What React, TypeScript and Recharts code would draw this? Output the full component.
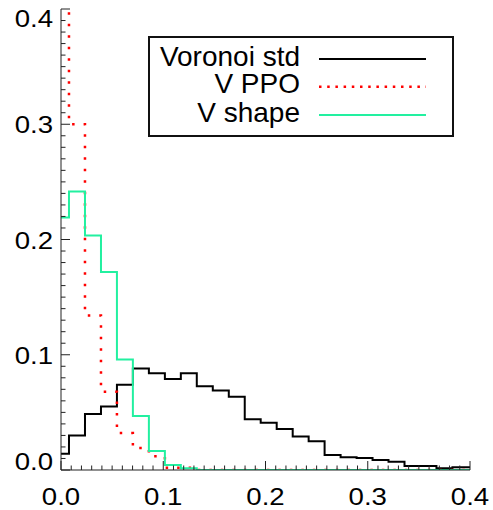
import { LineChart, Line, XAxis, YAxis, Legend } from "recharts";

// histogram bin centres (bin width 1/64)
const binCenters = [
  0, 0.0156, 0.0313, 0.0469, 0.0625, 0.0781, 0.0938, 0.1094, 0.125, 0.1406,
  0.1563, 0.1719, 0.1875, 0.2031, 0.2188, 0.2344, 0.25, 0.2656, 0.2813,
  0.2969, 0.3125, 0.3281, 0.3438, 0.3594, 0.375, 0.3906, 0.4063,
];

const voronoiStd = [
  0.014, 0.03, 0.0485, 0.055, 0.074, 0.088, 0.084, 0.079, 0.084, 0.0727,
  0.069, 0.0635, 0.044, 0.041, 0.0355, 0.029, 0.025, 0.013, 0.011, 0.0104,
  0.0087, 0.0072, 0.0035, 0.0035, 0.0015, 0.0023, 0.0023,
];

const vPpo = [
  0.46, 0.3, 0.134, 0.068, 0.032, 0.019, 0.012, 0.002, 0.002, 0.0, 0, 0, 0,
  0, 0, 0, 0, 0, 0, 0, 0, 0, 0, 0, 0, 0, 0,
];

const vShape = [
  0.219, 0.2416, 0.2035, 0.1717, 0.0958, 0.0468, 0.0165, 0.0043, 0.0015, 0,
  0, 0, 0, 0, 0, 0, 0, 0, 0, 0, 0, 0, 0, 0, 0, 0, 0,
];

const axisTicks = [
  0, 0.01, 0.02, 0.03, 0.04, 0.05, 0.06, 0.07, 0.08, 0.09, 0.1, 0.11, 0.12,
  0.13, 0.14, 0.15, 0.16, 0.17, 0.18, 0.19, 0.2, 0.21, 0.22, 0.23, 0.24, 0.25,
  0.26, 0.27, 0.28, 0.29, 0.3, 0.31, 0.32, 0.33, 0.34, 0.35, 0.36, 0.37, 0.38,
  0.39, 0.4,
];

const data = binCenters.map((x, i) => ({
  x,
  std: voronoiStd[i],
  ppo: vPpo[i],
  shape: vShape[i],
}));

const FONT = '"Liberation Sans", Arial, Helvetica, sans-serif';
const AXIS_COLOR = "#222";

const series = [
  { key: "std", label: "Voronoi std", color: "#000000", width: 2, dash: undefined, legendDash: undefined },
  { key: "ppo", label: "V PPO", color: "#ff0000", width: 2.5, dash: "2.5 9", legendDash: "2.5 5.7" },
  { key: "shape", label: "V shape", color: "#22f0a0", width: 2, dash: undefined, legendDash: undefined },
];

const isMajor = (v: number) => Math.abs(v * 10 - Math.round(v * 10)) < 1e-6;

function AxisTick(props: any) {
  const { x, y, payload, side } = props;
  const v = payload.value as number;
  const len = isMajor(v) ? 9 : 4.5;
  const label = v.toFixed(1);

  if (side === "bottom") {
    return (
      <g>
        <line x1={x} y1={y} x2={x} y2={y - len} stroke={AXIS_COLOR} strokeWidth={1} />
        {isMajor(v) && (
          <text
            x={0}
            y={0}
            transform={`translate(${x},${y + 35}) scale(1.15,1)`}
            textAnchor="middle"
            fontSize={24}
            fontFamily={FONT}
            fill="#000"
          >
            {label}
          </text>
        )}
      </g>
    );
  }
  if (side === "top") {
    return <line x1={x} y1={y} x2={x} y2={y + len} stroke={AXIS_COLOR} strokeWidth={1} />;
  }
  if (side === "right") {
    return <line x1={x} y1={y} x2={x - len} y2={y} stroke={AXIS_COLOR} strokeWidth={1} />;
  }
  // left: end labels are kept inside the frame
  let dy = 9;
  if (v >= 0.4 - 1e-9) dy = 18;
  else if (v <= 1e-9) dy = 0;
  return (
    <g>
      <line x1={x} y1={y} x2={x + len} y2={y} stroke={AXIS_COLOR} strokeWidth={1} />
      {isMajor(v) && (
        <text
          x={0}
          y={0}
          transform={`translate(${x - 8},${y + dy}) scale(1.15,1)`}
          textAnchor="end"
          fontSize={24}
          fontFamily={FONT}
          fill="#000"
        >
          {label}
        </text>
      )}
    </g>
  );
}

function LegendBox() {
  const rowY = [23, 50.7, 79];
  return (
    <svg width={306} height={101} style={{ display: "block" }}>
      <rect x={1} y={1} width={304} height={99} fill="#fff" stroke="#111" strokeWidth={2} />
      {series.map((s, i) => (
        <g key={s.key}>
          <text
            x={152}
            y={rowY[i] + 6.5}
            textAnchor="end"
            fontSize={28}
            fontFamily={FONT}
            fill="#000"
          >
            {s.label}
          </text>
          <line
            x1={171}
            x2={278}
            y1={rowY[i]}
            y2={rowY[i]}
            stroke={s.color}
            strokeWidth={s.width}
            strokeDasharray={s.legendDash}
          />
        </g>
      ))}
    </svg>
  );
}

export default function App() {
  return (
    <div style={{ position: "absolute", left: 0, top: 0 }}>
      <LineChart
        width={493}
        height={510}
        data={data}
        margin={{ top: 9, right: 23, left: 0, bottom: 0 }}
      >
        <XAxis
          dataKey="x"
          type="number"
          domain={[0, 0.4]}
          allowDataOverflow
          ticks={axisTicks}
          interval={0}
          height={40}
          tickSize={0}
          tickMargin={0}
          tickLine={false}
          axisLine={{ stroke: AXIS_COLOR, strokeWidth: 1 }}
          tick={<AxisTick side="bottom" />}
        />
        <XAxis
          xAxisId="top"
          orientation="top"
          dataKey="x"
          type="number"
          domain={[0, 0.4]}
          allowDataOverflow
          ticks={axisTicks}
          interval={0}
          height={0}
          tickSize={0}
          tickMargin={0}
          tickLine={false}
          axisLine={{ stroke: AXIS_COLOR, strokeWidth: 1 }}
          tick={<AxisTick side="top" />}
        />
        <YAxis
          type="number"
          domain={[0, 0.4]}
          allowDataOverflow
          ticks={axisTicks}
          interval={0}
          width={61}
          tickSize={0}
          tickMargin={0}
          tickLine={false}
          axisLine={{ stroke: AXIS_COLOR, strokeWidth: 1 }}
          tick={<AxisTick side="left" />}
        />
        <YAxis
          yAxisId="right"
          orientation="right"
          type="number"
          domain={[0, 0.4]}
          allowDataOverflow
          ticks={axisTicks}
          interval={0}
          width={0}
          tickSize={0}
          tickMargin={0}
          tickLine={false}
          axisLine={{ stroke: AXIS_COLOR, strokeWidth: 1 }}
          tick={<AxisTick side="right" />}
        />
        <Legend
          verticalAlign="middle"
          align="center"
          layout="horizontal"
          content={() => <LegendBox />}
          wrapperStyle={{ position: "absolute", left: 148, top: 36, width: 306, height: 101 }}
        />
        {series.map((s) => (
          <Line
            key={s.key}
            dataKey={s.key}
            name={s.label}
            type="step"
            stroke={s.color}
            strokeWidth={s.width}
            strokeDasharray={s.dash}
            dot={false}
            activeDot={false}
            isAnimationActive={false}
          />
        ))}
      </LineChart>
    </div>
  );
}
